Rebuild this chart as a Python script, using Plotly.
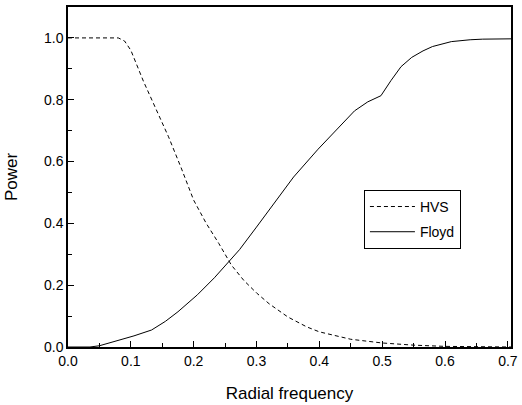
import plotly.graph_objects as go

hvs_x = [0.0, 0.05, 0.08, 0.09, 0.10, 0.12, 0.14, 0.16, 0.18, 0.20, 0.22, 0.24, 0.26, 0.28, 0.30, 0.32, 0.35, 0.38, 0.40, 0.45, 0.50, 0.55, 0.60, 0.65, 0.705]
hvs_y = [1.0, 1.0, 1.0, 0.99, 0.96, 0.86, 0.77, 0.68, 0.58, 0.475, 0.40, 0.335, 0.265, 0.215, 0.175, 0.14, 0.097, 0.065, 0.049, 0.025, 0.013, 0.006, 0.002, 0.0, 0.0]

floyd_x = [0.0, 0.035, 0.05, 0.081, 0.105, 0.133, 0.155, 0.175, 0.206, 0.233, 0.256, 0.273, 0.30, 0.33, 0.359, 0.398, 0.436, 0.456, 0.477, 0.498, 0.514, 0.53, 0.547, 0.565, 0.58, 0.61, 0.64, 0.66, 0.705]
floyd_y = [0.0, 0.0, 0.004, 0.021, 0.036, 0.055, 0.083, 0.114, 0.169, 0.224, 0.276, 0.315, 0.388, 0.47, 0.55, 0.64, 0.722, 0.764, 0.793, 0.813, 0.862, 0.907, 0.937, 0.958, 0.972, 0.988, 0.994, 0.996, 0.997]

x_ticks = [0.0, 0.1, 0.2, 0.3, 0.4, 0.5, 0.6, 0.7]
y_ticks = [0.0, 0.2, 0.4, 0.6, 0.8, 1.0]

FONT = "Liberation Sans, Arial, sans-serif"

fig = go.Figure()
fig.add_trace(go.Scatter(x=hvs_x, y=hvs_y, mode="lines", name="HVS", legendgroup="a",
                         line=dict(color="black", width=1, dash="4px,3px")))
fig.add_trace(go.Scatter(x=floyd_x, y=floyd_y, mode="lines", name="Floyd", legendgroup="b",
                         line=dict(color="black", width=1)))

fig.update_layout(
    width=522, height=405,
    margin=dict(l=68, r=4, t=7, b=58),
    paper_bgcolor="white", plot_bgcolor="white",
    font=dict(family=FONT, size=14, color="black"),
    showlegend=True,
    legend=dict(x=0.668, y=0.462, xanchor="left", yanchor="top",
                bordercolor="black", borderwidth=1, bgcolor="white",
                font=dict(size=14, family=FONT), tracegroupgap=4,
                itemwidth=45),
    xaxis=dict(range=[0, 0.705], tickvals=x_ticks, ticktext=[f"{v:.1f}" for v in x_ticks],
               ticklabeloverflow="allow",
               showgrid=False, zeroline=False, showline=True, linecolor="black", linewidth=1.5,
               mirror=True, ticks="inside", ticklen=6, tickwidth=1, tickcolor="black",
               minor=dict(dtick=0.05, tick0=0, ticks="inside", ticklen=4, tickcolor="black", showgrid=False),
               title=dict(text="Radial frequency", font=dict(size=17, family=FONT), standoff=20),
               tickfont=dict(size=14)),
    yaxis=dict(range=[0, 1.1], tickvals=y_ticks, ticktext=[f"{v:.1f}" for v in y_ticks],
               showgrid=False, zeroline=False, showline=True, linecolor="black", linewidth=1.5,
               mirror=True, ticks="inside", ticklen=6, tickwidth=1, tickcolor="black",
               minor=dict(dtick=0.1, tick0=0, ticks="inside", ticklen=4, tickcolor="black", showgrid=False),
               title=dict(text="Power", font=dict(size=17, family=FONT), standoff=22),
               tickfont=dict(size=14)),
)

fig.write_html("out.html")
